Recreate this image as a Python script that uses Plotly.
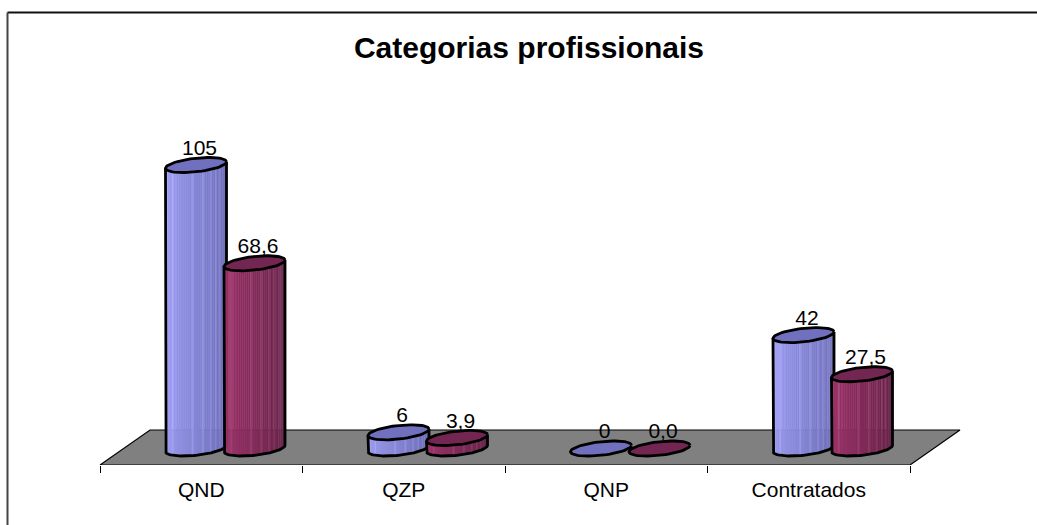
import math
import plotly.graph_objects as go

# Source figures for the chart
categories = ["QND", "QZP", "QNP", "Contratados"]
counts = [105, 6, 0, 42]
percentages = [68.6, 3.9, 0.0, 27.5]
title_text = "Categorias profissionais"

# Canvas and the scale of the value and category axes
WIDTH, HEIGHT = 1037, 525
AXIS_LEFT_PX, CATEGORY_PX = 100, 202.5
AXIS_BOTTOM_PX = 465
BASE_PX = 448.5
VALUE_PX = 2.7


def x_units(px):
    return px / CATEGORY_PX


def y_units(px):
    return px / VALUE_PX


x_range = [-0.5 - x_units(AXIS_LEFT_PX), -0.5 + x_units(WIDTH - AXIS_LEFT_PX)]
y_range = [y_units(BASE_PX - AXIS_BOTTOM_PX), y_units(BASE_PX)]

# Cylinder proportions, expressed in axis units
RADIUS_X = x_units(30.5)
RADIUS_Y = y_units(6.8)
TILT = y_units(3.2)
SERIES_OFFSET = {"blue": x_units(-5.25), "red": x_units(53.25)}

# Colour ramps: left side, right side, lid
PALETTE = {
    "blue": ((166, 166, 255), (100, 100, 172), (112, 112, 190)),
    "red": ((168, 54, 112), (92, 30, 66), (116, 38, 82)),
}
# Thin pale pleats that run down the cylinder walls
STREAKS = {5, 10, 21, 26, 30, 33, 36, 38, 40, 43}
STRIPS = 46
OUTLINE = 2.8


def rim(cx, cy, t):
    return cx + RADIUS_X * math.cos(t), cy + RADIUS_Y * math.sin(t) + TILT * math.cos(t)


def ramp(series, f, lift=0):
    a, b, _ = PALETTE[series]
    c = [min(255, round(a[i] + (b[i] - a[i]) * f) + lift) for i in range(3)]
    return f"rgb({c[0]},{c[1]},{c[2]})"


def add_cylinder(fig, i, value, series):
    cx = i + SERIES_OFFSET[series]
    # Walls: vertical strips across the front half of the rim
    if value > 0:
        for s in range(STRIPS):
            t0 = math.pi - math.pi * s / STRIPS
            t1 = math.pi - math.pi * (s + 1) / STRIPS
            # plotly's y axis points up, so the front of the rim uses -sin
            x0, y0 = rim(cx, 0, -t0)
            x1, y1 = rim(cx, 0, -t1)
            colour = ramp(series, s / (STRIPS - 1), 16 if s in STREAKS else 0)
            fig.add_trace(go.Scatter(
                x=[x0, x1, x1, x0, x0],
                y=[y0, y1, y1 + value, y0 + value, y0],
                mode="lines", fill="toself", fillcolor=colour,
                line=dict(width=0.5, color=colour), hoverinfo="skip", showlegend=False,
            ))
        # Outline of the walls
        n = 48
        arc = [rim(cx, 0, -(math.pi - math.pi * k / n)) for k in range(n + 1)]
        xs = [arc[0][0]] + [p[0] for p in arc] + [arc[-1][0]]
        ys = [arc[0][1] + value] + [p[1] for p in arc] + [arc[-1][1] + value]
        fig.add_trace(go.Scatter(
            x=xs, y=ys, mode="lines", line=dict(color="black", width=OUTLINE),
            hoverinfo="skip", showlegend=False,
        ))
    # Lid
    n = 64
    lid = [rim(cx, value, 2 * math.pi * k / n) for k in range(n + 1)]
    fig.add_trace(go.Scatter(
        x=[p[0] for p in lid], y=[p[1] for p in lid],
        mode="lines", fill="toself",
        fillcolor="rgb({},{},{})".format(*PALETTE[series][2]),
        line=dict(color="black", width=OUTLINE), hoverinfo="skip", showlegend=False,
    ))


fig = go.Figure()

# Floor of the 3D plot
depth_x = x_units(50)
back_y = y_units(BASE_PX - 430)
front_y = y_range[0]
fig.add_trace(go.Scatter(
    x=[-0.5, -0.5 + depth_x, 3.5 + depth_x, 3.5, -0.5],
    y=[front_y, back_y, back_y, front_y, front_y],
    mode="lines", fill="toself", fillcolor="#808080",
    line=dict(color="black", width=1.2), hoverinfo="skip", showlegend=False,
))

for i, category in enumerate(categories):
    add_cylinder(fig, i, counts[i], "blue")
    add_cylinder(fig, i, percentages[i], "red")

# Value labels sit just above each lid
label_gap = y_units(15.5)
label_shift = x_units(3.5)
fig.add_trace(go.Scatter(
    x=[i + SERIES_OFFSET["blue"] + label_shift for i in range(4)]
    + [i + SERIES_OFFSET["red"] + label_shift for i in range(4)],
    y=[v + label_gap for v in counts] + [v + label_gap for v in percentages],
    text=[str(v) for v in counts] + [f"{v:.1f}".replace(".", ",") for v in percentages],
    mode="text", textposition="middle center",
    textfont=dict(family="Liberation Sans", size=21, color="black"),
    hoverinfo="skip", showlegend=False, cliponaxis=False,
))

# Chart frame: only the top and left edges are drawn
plot_h = AXIS_BOTTOM_PX
top_edge = (plot_h - 12.5) / plot_h
left_edge = 7.5 / WIDTH
fig.add_shape(
    type="line", xref="paper", yref="paper", layer="above",
    x0=left_edge, x1=1, y0=top_edge, y1=top_edge,
    line=dict(color="#111111", width=2),
)
fig.add_shape(
    type="line", xref="paper", yref="paper", layer="above",
    x0=left_edge, x1=left_edge, y0=top_edge, y1=-(HEIGHT - plot_h) / plot_h,
    line=dict(color="#444444", width=2),
)

fig.update_layout(
    width=WIDTH, height=HEIGHT,
    margin=dict(l=0, r=0, t=0, b=HEIGHT - AXIS_BOTTOM_PX, pad=0),
    paper_bgcolor="white", plot_bgcolor="white",
    showlegend=False,
    title=dict(
        text=f"<b>{title_text}</b>", x=529 / WIDTH, xanchor="center",
        y=1 - 47 / HEIGHT, yanchor="middle",
        font=dict(family="Liberation Sans", size=30, color="black"),
    ),
    xaxis=dict(
        range=x_range, showgrid=False, zeroline=False, showline=False,
        tickmode="array", tickvals=list(range(4)), ticktext=categories,
        ticks="", ticklabelstandoff=10,
        tickfont=dict(family="Liberation Sans", size=21, color="black"),
        minor=dict(
            tickmode="array", tickvals=[-0.5, 0.5, 1.5, 2.5, 3.5],
            ticks="outside", ticklen=7, tickwidth=1, tickcolor="black", showgrid=False,
        ),
    ),
    yaxis=dict(range=y_range, visible=False, showgrid=False, zeroline=False),
)

fig.write_html("out.html", config={"displayModeBar": False})
